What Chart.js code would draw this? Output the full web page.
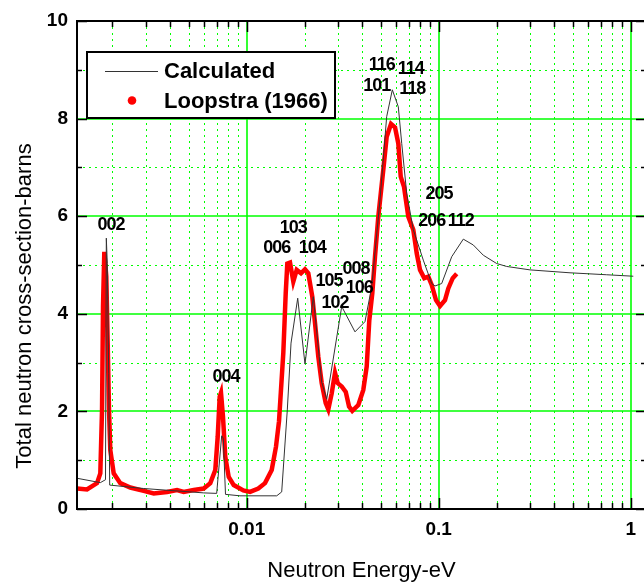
<!DOCTYPE html>
<html>
<head>
<meta charset="utf-8">
<script src="https://cdn.jsdelivr.net/npm/chart.js@4"></script>
<style>
  html, body { margin: 0; padding: 0; background: #fff; overflow: hidden; }
  #wrap { position: relative; width: 650px; height: 583px; }
</style>
</head>
<body>
<div id="wrap"><canvas id="chart"></canvas></div>
<script>
// Calculated curve (energy in eV, cross section in barns)
const calcE = [0.001307, 0.001728, 0.001839, 0.001857, 0.001879, 0.001911, 0.001934, 0.002908, 0.004335,
    0.005970, 0.006977, 0.007408, 0.007552, 0.007754, 0.009227, 0.014333, 0.015215, 0.016273, 0.017014,
    0.018436, 0.020117, 0.022229, 0.024584, 0.026102, 0.031256, 0.036646, 0.041316, 0.044774, 0.049445,
    0.053589, 0.057341, 0.061613, 0.064177, 0.068129, 0.073758, 0.083114, 0.091954, 0.095664, 0.10366,
    0.11688, 0.13431, 0.15142, 0.17074, 0.20046, 0.22600, 0.29882, 0.48292, 0.74989, 1.0317];
const calcS = [0.63, 0.54, 0.60, 5.55, 5.03, 2.78, 0.49, 0.42, 0.37,
    0.33, 0.32, 1.50, 1.45, 0.30, 0.27, 0.27, 0.35, 2.03, 3.40,
    4.32, 2.97, 4.35, 2.60, 2.25, 4.15, 3.63, 3.84, 4.55, 6.33,
    8.04, 8.59, 8.24, 7.49, 6.47, 5.72, 5.10, 4.62, 4.57, 4.62,
    5.17, 5.53, 5.41, 5.20, 5.03, 4.97, 4.90, 4.84, 4.80, 4.77];

// Loopstra (1966) measurement
const loopE = [0.001307, 0.001473, 0.001661, 0.001728, 0.001764, 0.001785, 0.001813, 0.001857, 0.001888,
    0.001918, 0.001948, 0.002029, 0.002196, 0.002476, 0.002908, 0.003279, 0.003846, 0.004335, 0.004697,
    0.005297, 0.005970, 0.006463, 0.006861, 0.007062, 0.007233, 0.007347, 0.007525, 0.007736, 0.008057,
    0.008556, 0.009601, 0.010404, 0.011491, 0.012455, 0.013499, 0.014213, 0.014734, 0.015512, 0.015965,
    0.016273, 0.016811, 0.017490, 0.018217, 0.019180, 0.020117, 0.020931, 0.021963, 0.022686, 0.023602,
    0.024584, 0.025791, 0.026607, 0.027716, 0.028836, 0.029785, 0.031256, 0.032800, 0.034124, 0.035481,
    0.038131, 0.040485, 0.042170, 0.043507, 0.045098, 0.046582, 0.048462, 0.051453, 0.053589, 0.056455,
    0.059229, 0.061613, 0.063411, 0.065971, 0.069449, 0.073758, 0.076825, 0.079926, 0.084140, 0.088266,
    0.091954, 0.096814, 0.10157, 0.10784, 0.11220, 0.11829, 0.12411];
const loopS = [0.42, 0.40, 0.53, 0.73, 2.03, 4.15, 5.27, 4.76, 3.40,
    2.03, 1.21, 0.73, 0.53, 0.44, 0.37, 0.32, 0.35, 0.39, 0.35,
    0.39, 0.42, 0.53, 0.80, 1.48, 2.30, 2.38, 1.89, 1.07, 0.66,
    0.49, 0.38, 0.35, 0.42, 0.53, 0.80, 1.28, 1.80, 3.20, 4.42,
    5.03, 5.05, 4.66, 4.90, 4.83, 4.91, 4.83, 4.35, 3.81, 3.12,
    2.58, 2.17, 2.04, 2.37, 2.79, 2.58, 2.51, 2.40, 2.10, 2.01,
    2.13, 2.44, 2.92, 3.87, 4.42, 5.17, 5.99, 6.95, 7.63, 7.89,
    7.82, 7.49, 6.81, 6.60, 5.99, 5.72, 5.24, 4.90, 4.73, 4.76,
    4.59, 4.28, 4.16, 4.28, 4.52, 4.73, 4.82];

// Reflection labels (text, energy, cross section where they sit)
const peakText = ['002', '004', '103', '006', '104', '105', '102', '008', '106',
    '116', '114', '101', '118', '205', '206', '112'];
const peakE = [0.001965, 0.007801, 0.017490, 0.014333, 0.021963, 0.026831, 0.028836, 0.037100, 0.038597,
    0.050474, 0.071475, 0.047544, 0.072860, 0.10036, 0.091954, 0.13019];
const peakS = [5.82, 2.71, 5.75, 5.34, 5.34, 4.67, 4.23, 4.91, 4.52,
    9.10, 9.02, 8.67, 8.60, 6.45, 5.90, 5.90];

const xMajor = [0.01, 0.1, 1];
const yTicks = [0, 1, 2, 3, 4, 5, 6, 7, 8, 9, 10];

const xMin = 0.0013066;
const xMax = 1.2013;
const font = "'Liberation Sans', Arial, sans-serif";
const green = '#00ff00';

const toPoints = (xs, ys) => xs.map((v, i) => ({ x: v, y: ys[i] }));

function seg(ctx, x1, y1, x2, y2) {
    ctx.beginPath();
    ctx.moveTo(x1, y1);
    ctx.lineTo(x2, y2);
    ctx.stroke();
}

const decor = {
    id: 'decor',
    beforeDatasetsDraw(chart) {
        const { ctx, chartArea: a, scales: { x, y } } = chart;
        ctx.save();
        ctx.strokeStyle = green;
        ctx.lineWidth = 1;

        // dotted minor grid
        ctx.setLineDash([2, 4]);
        for (let e = -3; e <= 0; e++) {
            for (let k = 2; k <= 9; k++) {
                const px = Math.round(x.getPixelForValue(k * Math.pow(10, e))) + 0.5;
                if (px > a.left + 1 && px < a.right - 1) seg(ctx, px, a.top, px, a.bottom);
            }
        }
        yTicks.filter(v => v % 2 === 1).forEach(v => {
            const py = Math.round(y.getPixelForValue(v)) + 0.5;
            seg(ctx, a.left, py, a.right, py);
        });

        // solid major grid
        ctx.setLineDash([]);
        ctx.lineWidth = 1.6;
        xMajor.forEach(v => {
            const px = Math.round(x.getPixelForValue(v));
            seg(ctx, px, a.top, px, a.bottom);
        });
        yTicks.filter(v => v % 2 === 0 && v > 0 && v < 10).forEach(v => {
            const py = Math.round(y.getPixelForValue(v));
            seg(ctx, a.left, py, a.right, py);
        });
        ctx.restore();
    },
    afterDatasetsDraw(chart) {
        const { ctx, chartArea: a, scales: { x, y } } = chart;
        ctx.save();

        // tick marks, pointing inward
        ctx.strokeStyle = '#000';
        ctx.lineWidth = 1.5;
        for (let e = -3; e <= 0; e++) {
            for (let k = 1; k <= 9; k++) {
                const v = k * Math.pow(10, e);
                const px = Math.round(x.getPixelForValue(v)) + 0.5;
                if (px <= a.left + 1 || px >= a.right - 1) continue;
                const len = k === 1 ? 11 : 6;
                seg(ctx, px, a.bottom, px, a.bottom - len);
                seg(ctx, px, a.top, px, a.top + len);
            }
        }
        yTicks.forEach(v => {
            const py = Math.round(y.getPixelForValue(v)) + 0.5;
            const len = v % 2 === 0 ? 10 : 5;
            seg(ctx, a.left, py, a.left + len, py);
            seg(ctx, a.right, py, a.right - len, py);
        });

        // frame
        ctx.lineWidth = 2;
        ctx.strokeRect(a.left, a.top, a.right - a.left, a.bottom - a.top);

        // reflection labels
        ctx.fillStyle = '#000';
        ctx.font = 'bold 18px ' + font;
        ctx.letterSpacing = '-1px';
        ctx.textAlign = 'center';
        ctx.textBaseline = 'middle';
        peakText.forEach((t, i) => {
            ctx.fillText(t, x.getPixelForValue(peakE[i]), y.getPixelForValue(peakS[i]));
        });
        ctx.letterSpacing = '0px';

        // y axis title
        ctx.save();
        ctx.translate(25, 306);
        ctx.rotate(-Math.PI / 2);
        ctx.font = '22px ' + font;
        ctx.fillText('Total neutron cross-section-barns', 0, 0);
        ctx.restore();

        // legend box
        const ds = chart.data.datasets;
        ctx.fillStyle = '#fff';
        ctx.fillRect(87, 52, 248, 66);
        ctx.strokeStyle = '#000';
        ctx.lineWidth = 2;
        ctx.strokeRect(87, 52, 248, 66);
        ctx.strokeStyle = '#333';
        ctx.lineWidth = 1;
        seg(ctx, 105, 71.5, 158, 71.5);
        ctx.fillStyle = '#ff0000';
        ctx.beginPath();
        ctx.arc(132, 100.5, 4.3, 0, Math.PI * 2);
        ctx.fill();
        ctx.fillStyle = '#000';
        ctx.font = 'bold 22px ' + font;
        ctx.textAlign = 'left';
        ctx.fillText(ds[0].label, 164, 72);
        ctx.fillText(ds[1].label, 164, 102);
        ctx.restore();
    }
};

new Chart(document.getElementById('chart'), {
    type: 'line',
    data: {
        datasets: [{
            label: 'Calculated',
            data: toPoints(calcE, calcS),
            borderColor: '#333',
            borderWidth: 1,
            pointRadius: 0,
            tension: 0,
            order: 0
        }, {
            label: 'Loopstra (1966)',
            data: toPoints(loopE, loopS),
            borderColor: '#ff0000',
            borderWidth: 4.5,
            pointRadius: 0,
            tension: 0,
            order: 1
        }]
    },
    options: {
        responsive: true,
        maintainAspectRatio: false,
        animation: false,
        devicePixelRatio: 1,
        layout: { padding: { top: 21, right: 4, left: 0, bottom: 0 } },
        plugins: {
            legend: { display: false },
            tooltip: { enabled: false }
        },
        scales: {
            x: {
                type: 'logarithmic',
                min: xMin,
                max: xMax,
                grid: { display: false },
                border: { display: false },
                ticks: {
                    autoSkip: false,
                    maxRotation: 0,
                    padding: 1,
                    color: '#000',
                    font: { family: font, size: 19, weight: 'bold' },
                    callback: (v) => {
                        const l = Math.log10(v);
                        return Math.abs(l - Math.round(l)) < 1e-6 && v > 0.005 ? String(Number(v.toPrecision(3))) : '';
                    }
                },
                title: {
                    display: true,
                    text: 'Neutron Energy-eV',
                    color: '#000',
                    font: { family: font, size: 22, lineHeight: 1 },
                    padding: { top: 0, bottom: 1 }
                },
                afterFit: (s) => { s.height = 74; }
            },
            y: {
                min: 0,
                max: 10,
                grid: { display: false },
                border: { display: false },
                ticks: {
                    stepSize: 1,
                    padding: 1,
                    color: '#000',
                    font: { family: font, size: 19, weight: 'bold' },
                    callback: (v) => v % 2 === 0 ? v : ''
                },
                afterFit: (s) => { s.width = 77; }
            }
        }
    },
    plugins: [decor]
});
</script>
</body>
</html>
